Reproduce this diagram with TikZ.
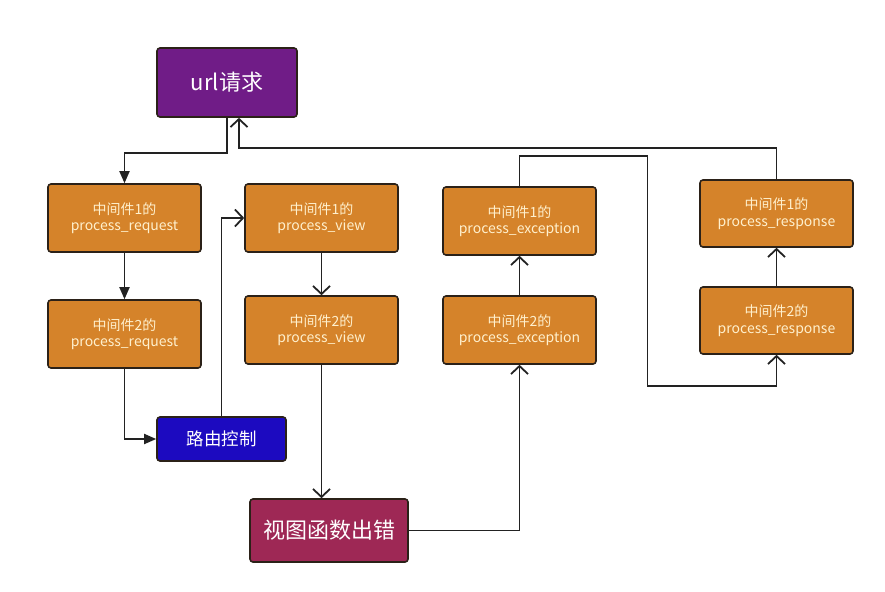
\documentclass[tikz,border=0pt]{standalone}
\usepackage{fontspec}
\setmainfont{Noto Sans CJK SC}
\usetikzlibrary{arrows.meta}

\definecolor{boxorange}{RGB}{213,131,42}
\definecolor{urlpurple}{RGB}{112,28,135}
\definecolor{routeblue}{RGB}{28,10,192}
\definecolor{errred}{RGB}{158,40,85}
\definecolor{boxedge}{RGB}{43,33,24}
\definecolor{wiregray}{RGB}{34,34,34}
\definecolor{paletext}{RGB}{255,240,205}

\tikzset{
  stagebox/.style={draw=boxedge, line width=1.6pt, rounded corners=3pt,
    fill=boxorange, text=paletext, align=center,
    minimum width=153pt, minimum height=68pt,
    font=\fontsize{14}{16.5}\selectfont},
  keybox/.style={draw=boxedge, line width=1.6pt, rounded corners=3pt,
    text=white, align=center},
  wire/.style={draw=wiregray, line width=1.8pt},
  solidtip/.style={wire, -{Triangle[length=12pt,width=10pt]}},
  opentip/.style={wire, -{Straight Barb[length=8pt,width=17pt,line width=1.8pt]}}
}

\begin{document}
\begin{tikzpicture}[x=1pt,y=-1pt]
  \useasboundingbox (0,0) rectangle (885,591);

  % Request and error boxes
  \node[keybox, fill=urlpurple, minimum width=140pt, minimum height=69pt,
        font=\fontsize{22}{26}\selectfont] (url) at (227,82.5) {url请求};
  \node[keybox, fill=routeblue, minimum width=129pt, minimum height=44pt,
        font=\fontsize{17.5}{20}\selectfont] (route) at (221.5,439) {路由控制};
  \node[keybox, fill=errred, minimum width=158pt, minimum height=63pt,
        font=\fontsize{22}{26}\selectfont] (err) at (329,530.5) {视图函数出错};

  % Middleware stages
  \node[stagebox] (req1) at (124.5,218) {中间件1的\\process\_request};
  \node[stagebox] (req2) at (124.5,334) {中间件2的\\process\_request};
  \node[stagebox] (view1) at (321.5,218) {中间件1的\\process\_view};
  \node[stagebox] (view2) at (321.5,330) {中间件2的\\process\_view};
  \node[stagebox] (exc1) at (519.5,221) {中间件1的\\process\_exception};
  \node[stagebox] (exc2) at (519.5,330) {中间件2的\\process\_exception};
  \node[stagebox, minimum height=67pt] (resp1) at (776.5,213.5) {中间件1的\\process\_response};
  \node[stagebox, minimum height=67pt] (resp2) at (776.5,320.5) {中间件2的\\process\_response};

  % Request path
  \draw[solidtip] (url.south) -- ++(0,35) -| (req1.north);
  \draw[solidtip] (req1) -- (req2);
  \draw[solidtip] (req2.south) |- (route.west);

  % View path
  \draw[opentip] (route.north) |- (view1.west);
  \draw[opentip] (view1) -- (view2);
  \draw[opentip] (view2.south) -- (view2.south |- err.north);

  % Exception and response path
  \draw[opentip] (err.east) -| (exc2.south);
  \draw[opentip] (exc2) -- (exc1);
  \draw[opentip] (exc1.north) -- ++(0,-30) -- ++(128,0) |- ([yshift=-31pt]resp2.south) -- (resp2.south);
  \draw[opentip] (resp2) -- (resp1);
  \draw[opentip] (resp1.north) -- ++(0,-31) -| ([xshift=12pt]url.south);
\end{tikzpicture}
\end{document}
